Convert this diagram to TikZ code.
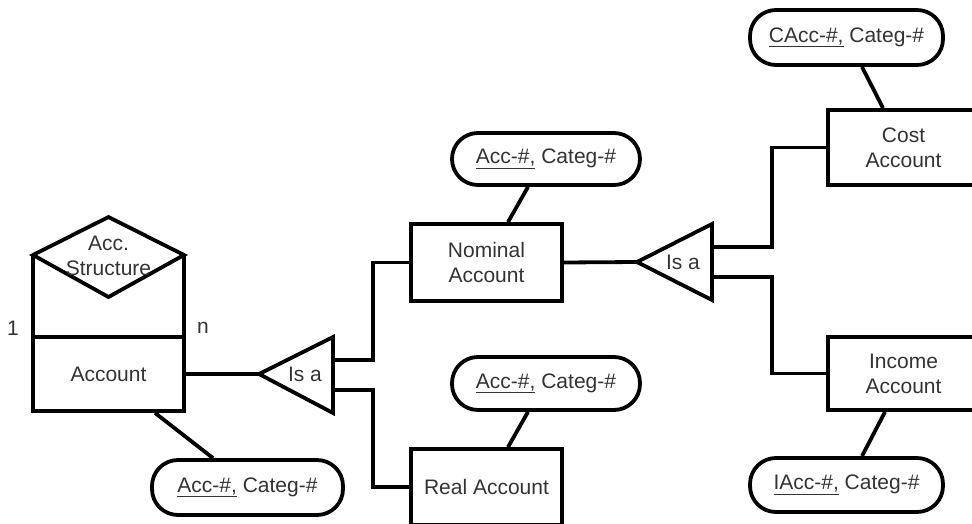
\documentclass[tikz,border=0pt]{standalone}
\usepackage{fontspec}
\setmainfont{Liberation Sans}
\begin{document}
\begin{tikzpicture}[x=1pt,y=-1pt,
  every node/.style={font=\fontsize{21}{25}\selectfont, text=black!80},
  lw/.style={line width=3.8pt},
  ent/.style={lw, draw, rectangle, minimum width=151pt, inner sep=0pt, align=center},
  attr/.style={lw, draw, rectangle, rounded corners=26pt, inner sep=0pt, align=center},
  lbl/.style={inner sep=0pt, align=center}]
\useasboundingbox (0,0) rectangle (972,524);
% entities
\node[ent, minimum height=74pt] (acc) at (108.5,374) {Account};
\node[ent, minimum height=77pt] (nom) at (486.5,262.5) {Nominal\\Account};
\node[ent, minimum height=76pt] (real) at (486.5,487) {Real Account};
\node[ent, minimum height=75pt] (cost) at (903.5,147.5) {Cost\\Account};
\node[ent, minimum height=73pt] (inc) at (903.5,373.5) {Income\\Account};
% attributes
\node[attr, minimum width=191pt, minimum height=55pt] (atA) at (247.5,487.5) {\underline{Acc-\#,} Categ-\#};
\node[attr, minimum width=188pt, minimum height=52pt] (atN) at (546,159) {\underline{Acc-\#,} Categ-\#};
\node[attr, minimum width=188pt, minimum height=53pt] (atR) at (546,383.5) {\underline{Acc-\#,} Categ-\#};
\node[attr, minimum width=193pt, minimum height=55pt] (atC) at (846.5,37.5) {\underline{CAcc-\#,} Categ-\#};
\node[attr, minimum width=193pt, minimum height=54pt] (atI) at (846.5,485) {\underline{IAcc-\#,} Categ-\#};
% recursive relationship Acc. Structure
\coordinate (dl) at (33,255);
\coordinate (dr) at (184,255);
\coordinate (dt) at (108.5,217);
\coordinate (db) at (108.5,297);
\draw[lw] (dl) -- (dt) -- (dr) -- (db) -- cycle;
\draw[lw] (dl) -- (dl |- acc.north);
\draw[lw] (dr) -- (dr |- acc.north);
\node[lbl] (accs) at (108.5,255.5) {Acc.\\Structure};
\node[lbl] (one) at (13,328) {1};
\node[lbl] (nn) at (203,328) {n};
% Is a triangle 1
\coordinate (t1a) at (259,374);
\coordinate (t1t) at (333,337);
\coordinate (t1b) at (333,413);
\draw[lw] (t1a) -- (t1t) -- (t1b) -- cycle;
\node[lbl] (isa1) at (305,374) {Is a};
\coordinate (t1u) at (333,360);
\coordinate (t1d) at (333,390);
% Is a triangle 2
\coordinate (t2a) at (637,262);
\coordinate (t2t) at (712,224);
\coordinate (t2b) at (712,300);
\draw[lw] (t2a) -- (t2t) -- (t2b) -- cycle;
\node[lbl] (isa2) at (683,262) {Is a};
\coordinate (t2u) at (712,247);
\coordinate (t2d) at (712,277);
% connectors
\draw[lw] (acc.east) -- (t1a);
\draw[lw] (t1u) -- (373,360) |- (nom.west);
\draw[lw] (t1d) -- (373,390) |- (real.west);
\draw[lw] (nom.east) -- (t2a);
\draw[lw] (t2u) -- (772,247) |- (cost.west);
\draw[lw] (t2d) -- (772,277) |- (inc.west);
\draw[lw] ([xshift=46.5pt]acc.south) -- ([xshift=-34.5pt]atA.north);
\draw[lw] ([xshift=-18pt]atN.south) -- ([xshift=21.5pt]nom.north);
\draw[lw] ([xshift=-18pt]atR.south) -- ([xshift=21.5pt]real.north);
\draw[lw] ([xshift=15.5pt]atC.south) -- ([xshift=-20.5pt]cost.north);
\draw[lw] ([xshift=-18.5pt]inc.south) -- ([xshift=15.5pt]atI.north);
\end{tikzpicture}
\end{document}
